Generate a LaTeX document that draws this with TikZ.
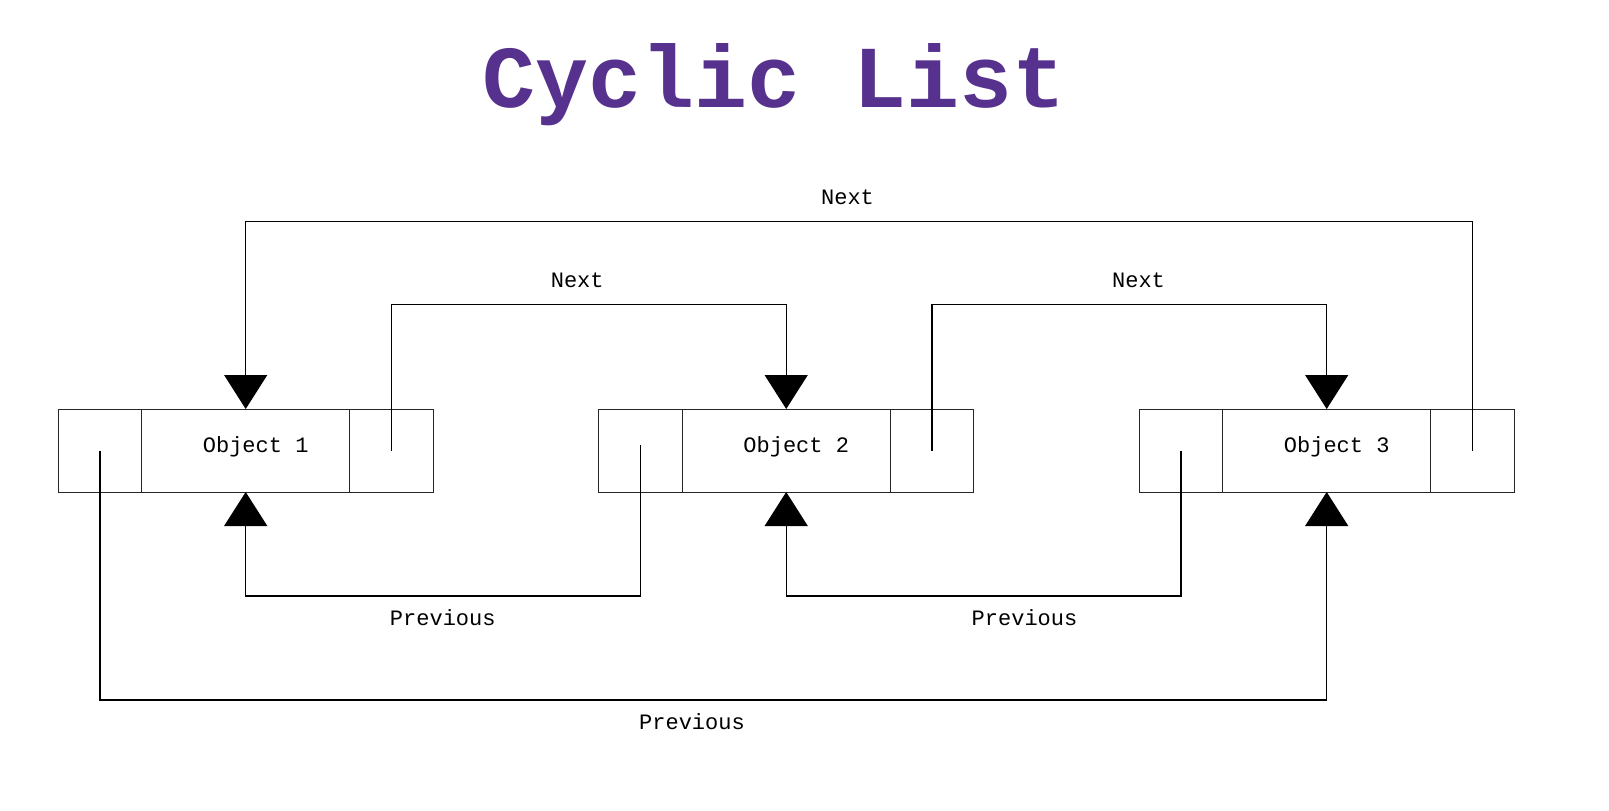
\documentclass[tikz,border=0pt]{standalone}
\usepackage{fontspec}
\setmainfont{Liberation Mono}
\usetikzlibrary{arrows.meta}
\definecolor{titlepurple}{RGB}{86,49,141}
\begin{document}
\begin{tikzpicture}[x=1pt,y=-1pt,
  cell/.style={draw=black!85, line width=1pt, minimum height=83pt, inner sep=0pt, outer sep=0pt, anchor=north west},
  endcell/.style={cell, minimum width=83.2pt},
  midcell/.style={cell, minimum width=208.4pt},
  link/.style={draw=black, line width=1.3pt, -{Triangle[width=43pt,length=34pt]}},
  lbl/.style={font=\fontsize{22}{26}\selectfont, anchor=base, inner sep=0pt},
]
\useasboundingbox[fill=white] (0,0) rectangle (1609,811);

\node[anchor=base, inner sep=0pt, text=titlepurple, font=\fontsize{88.3}{100}\selectfont\bfseries] (title) at (774,107) {Cyclic List};

\foreach \k/\x in {1/58.3, 2/598.8, 3/1139.3} {
  \node[endcell] (l\k) at (\x,409) {};
  \node[midcell] (m\k) at (\x+83.2,409) {};
  \node[endcell] (r\k) at (\x+291.6,409) {};
  \node[lbl] (t\k) at (\x+197.4, 452.5) {Object \k};
}

% Next links
\draw[link] (r3.center) -- (r3.center |- 0,221.7) -| (m1.north);
\draw[link] (r1.center) -- (r1.center |- 0,304.8) -| (m2.north);
\draw[link] (r2.center) -- (r2.center |- 0,304.8) -| (m3.north);

% Previous links
\draw[link] ([yshift=5.5pt]l2.center) -- (l2.center |- 0,596) -| (m1.south);
\draw[link] (l3.center) -- (l3.center |- 0,596) -| (m2.south);
\draw[link] (l1.center) -- (l1.center |- 0,700) -| (m3.south);

% Labels
\node[lbl] (n0) at (847.5,204) {Next};
\node[lbl] (n1) at (577.2,287) {Next};
\node[lbl] (n2) at (1138.5,287) {Next};
\node[lbl] (p1) at (442.8,625) {Previous};
\node[lbl] (p2) at (1024.5,625) {Previous};
\node[lbl] (p0) at (692,729) {Previous};
\end{tikzpicture}
\end{document}
